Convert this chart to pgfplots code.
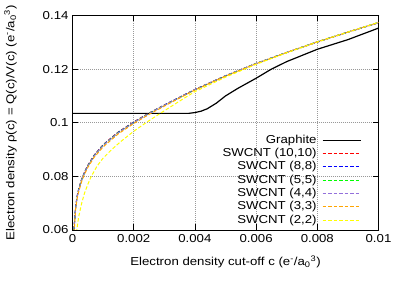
\documentclass[border=0pt]{standalone}
\usepackage{fontspec}
\setmainfont{Liberation Sans}[FakeStretch=1.15]
\usepackage{pgfplots}
\usepackage{pgfplotstable}
\pgfplotsset{compat=1.18}

\definecolor{cred}{RGB}{255,0,0}
\definecolor{cblue}{RGB}{0,0,255}
\definecolor{cgreen}{RGB}{0,255,0}
\definecolor{cpurple}{RGB}{147,112,219}
\definecolor{corange}{RGB}{255,165,0}
\definecolor{cyellow}{RGB}{255,255,0}

\pgfplotstableread{
x y
0.0000 0.1035
0.0038 0.1035
0.0040 0.1038
0.0042 0.1043
0.0044 0.1052
0.0047 0.1073
0.0050 0.1100
0.0054 0.1128
0.0060 0.1166
0.0065 0.1200
0.0070 0.1228
0.0075 0.1251
0.0080 0.1274
0.0090 0.1310
0.0100 0.1353
}\graphite

\pgfplotstableread{
x y
0.00003 0.0560
0.00005 0.0605
0.00010 0.0685
0.00015 0.0725
0.00020 0.0752
0.00030 0.0790
0.00040 0.0818
0.00050 0.0841
0.00070 0.0878
0.00100 0.0918
0.00150 0.0966
0.00200 0.1003
0.00250 0.1036
0.00300 0.1066
0.00350 0.1095
0.00400 0.1124
0.00500 0.1175
0.00600 0.1221
0.00700 0.1262
0.00800 0.1301
0.00900 0.1338
0.01000 0.1373
}\tenten

\pgfplotstableread{
x y
0.00003 0.0560
0.00005 0.0604
0.00010 0.0684
0.00015 0.0724
0.00020 0.0751
0.00030 0.0789
0.00040 0.0817
0.00050 0.0840
0.00070 0.0877
0.00100 0.0917
0.00150 0.0965
0.00200 0.1002
0.00250 0.1035
0.00300 0.1066
0.00350 0.1095
0.00400 0.1124
0.00500 0.1175
0.00600 0.1221
0.00700 0.1262
0.00800 0.1301
0.00900 0.1338
0.01000 0.1373
}\eighteight

\pgfplotstableread{
x y
0.00003 0.0558
0.00005 0.0603
0.00010 0.0683
0.00015 0.0723
0.00020 0.0750
0.00030 0.0788
0.00040 0.0816
0.00050 0.0839
0.00070 0.0876
0.00100 0.0916
0.00150 0.0964
0.00200 0.1001
0.00250 0.1035
0.00300 0.1065
0.00350 0.1094
0.00400 0.1123
0.00500 0.1175
0.00600 0.1221
0.00700 0.1262
0.00800 0.1302
0.00900 0.1338
0.01000 0.1374
}\fivefive

\pgfplotstableread{
x y
0.00003 0.0557
0.00005 0.0602
0.00010 0.0682
0.00015 0.0722
0.00020 0.0749
0.00030 0.0787
0.00040 0.0815
0.00050 0.0838
0.00070 0.0875
0.00100 0.0915
0.00150 0.0963
0.00200 0.1001
0.00250 0.1034
0.00300 0.1065
0.00350 0.1094
0.00400 0.1123
0.00500 0.1175
0.00600 0.1221
0.00700 0.1262
0.00800 0.1302
0.00900 0.1338
0.01000 0.1374
}\fourfour

\pgfplotstableread{
x y
0.00004 0.0570
0.00006 0.0605
0.00010 0.0675
0.00015 0.0716
0.00020 0.0742
0.00030 0.0781
0.00040 0.0810
0.00050 0.0833
0.00070 0.0870
0.00100 0.0910
0.00150 0.0959
0.00200 0.0997
0.00250 0.1031
0.00300 0.1062
0.00350 0.1092
0.00400 0.1122
0.00500 0.1174
0.00600 0.1220
0.00700 0.1262
0.00800 0.1302
0.00900 0.1338
0.01000 0.1374
}\threethree

\pgfplotstableread{
x y
0.00012 0.0570
0.00014 0.0600
0.00020 0.0648
0.00030 0.0700
0.00040 0.0740
0.00050 0.0770
0.00060 0.0797
0.00080 0.0838
0.00100 0.0868
0.00130 0.0902
0.00160 0.0932
0.00200 0.0968
0.00240 0.1000
0.00280 0.1030
0.00320 0.1059
0.00360 0.1088
0.00400 0.1116
0.00500 0.1170
0.00600 0.1218
0.00700 0.1261
0.00800 0.1301
0.00900 0.1338
0.01000 0.1374
}\twotwo

\begin{document}
\fontsize{11.5}{13.5}\selectfont
\begin{tikzpicture}
\begin{axis}[
  scale only axis,
  width=306pt, height=214.5pt,
  xmin=0, xmax=0.01, ymin=0.06, ymax=0.14,
  xtick={0,0.002,0.004,0.006,0.008,0.01},
  ytick={0.06,0.08,0.1,0.12,0.14},
  scaled x ticks=false, scaled y ticks=false,
  /pgf/number format/assume math mode=true,
  xticklabel style={/pgf/number format/.cd, fixed, precision=3},
  yticklabel style={/pgf/number format/.cd, fixed, precision=2},
  tick align=inside,
  major tick length=6pt,
  tick style={black, line width=0.6pt},
  axis line style={black, line width=0.9pt},
  grid=major,
  grid style={black!40, line width=0.5pt, dash pattern=on 0.6pt off 1.4pt},
  xlabel={Electron density cut-off c (e\textsuperscript{-}/a\textsubscript{0}\textsuperscript{3})},
  ylabel={Electron density ρ(c) = Q(c)/V(c) (e\textsuperscript{-}/a\textsubscript{0}\textsuperscript{3})},
  xlabel style={at={(axis description cs:0.5,0)}, anchor=center, yshift=-32pt},
  ylabel style={at={(axis description cs:0,0.5)}, anchor=center, yshift=62pt},
  legend plot pos=right,
  legend cell align=right,
  legend image code/.code={\draw[#1] (0pt,0pt) -- (38pt,0pt);},
  legend style={draw=none, fill=none, at={(1,0)}, anchor=south east,
    xshift=-14pt, yshift=1.5pt, column sep=5pt, row sep=1pt,
    nodes={inner sep=0.5pt, text height=8.7pt, text depth=2.6pt}},
]
\addplot[black, line width=1.2pt] table {\graphite};
\addlegendentry{Graphite}
\addplot[cred, line width=1pt, dash pattern=on 3.5pt off 2pt] table {\tenten};
\addlegendentry{SWCNT (10,10)}
\addplot[cblue, line width=1pt, dash pattern=on 3.5pt off 2pt] table {\eighteight};
\addlegendentry{SWCNT (8,8)}
\addplot[cgreen, line width=1pt, dash pattern=on 3.5pt off 2pt] table {\fivefive};
\addlegendentry{SWCNT (5,5)}
\addplot[cpurple, line width=1pt, dash pattern=on 3.5pt off 2pt] table {\fourfour};
\addlegendentry{SWCNT (4,4)}
\addplot[corange, line width=1pt, dash pattern=on 3.5pt off 2pt] table {\threethree};
\addlegendentry{SWCNT (3,3)}
\addplot[cyellow, line width=1pt, dash pattern=on 3.5pt off 2pt] table {\twotwo};
\addlegendentry{SWCNT (2,2)}
\end{axis}
\pgfresetboundingbox
\path[use as bounding box] ([shift={(-72.5pt,-56pt)}]current axis.south west) rectangle ([shift={(30.5pt,15.5pt)}]current axis.north east);
\end{tikzpicture}
\end{document}
